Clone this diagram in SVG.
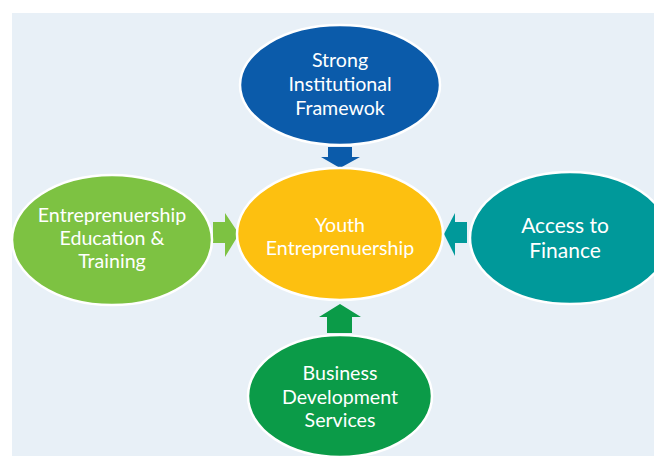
<svg xmlns="http://www.w3.org/2000/svg" width="654" height="456" viewBox="0 0 654 456">
  <style>
    .node { stroke: #ffffff; stroke-width: 2.5; }
    .label { font-family: Lato, "Open Sans", "Liberation Sans", sans-serif; fill: #ffffff; text-anchor: middle; font-size: 19.6px; }
    .big { font-size: 21px; }
  </style>
  <rect x="0" y="0" width="654" height="456" fill="#ffffff"/>
  <rect x="12" y="13" width="642" height="443" fill="#E8F0F7"/>

  <g id="connectors">
    <!-- down arrow from top node -->
    <polygon points="328,147 352,147 352,157 360,157 340,168 321,157 328,157" fill="#0B5BAA"/>
    <!-- right arrow from left node -->
    <polygon points="213,222 225,222 225,213 239,234 225,257 225,243 213,243" fill="#7DC242"/>
    <!-- left arrow from right node -->
    <polygon points="467,222 455,222 455,213 444,234 455,256 455,243 467,243" fill="#00999A"/>
    <!-- up arrow from bottom node -->
    <polygon points="327,333 352,333 352,317 361,317 340,304 319,317 327,317" fill="#0B9B48"/>
  </g>

  <g id="node-institutional">
    <ellipse class="node" cx="340" cy="85" rx="100" ry="60" fill="#0B5BAA"/>
    <text class="label" x="340" y="67">Strong</text>
    <text class="label" x="340" y="91">Institutional</text>
    <text class="label" x="340" y="115">Framewok</text>
  </g>

  <g id="node-youth">
    <ellipse class="node" cx="340" cy="234" rx="103" ry="66" fill="#FDC010"/>
    <text class="label" x="340" y="232">Youth</text>
    <text class="label" x="340" y="255">Entreprenuership</text>
  </g>

  <g id="node-education">
    <ellipse class="node" cx="112" cy="240" rx="100" ry="65" fill="#7DC242"/>
    <text class="label" x="112" y="222">Entreprenuership</text>
    <text class="label" x="112" y="245">Education &amp;</text>
    <text class="label" x="112" y="268">Training</text>
  </g>

  <g id="node-finance">
    <ellipse class="node" cx="570" cy="238" rx="100" ry="66" fill="#00999A"/>
    <text class="label big" x="565" y="233">Access to</text>
    <text class="label big" x="565" y="258">Finance</text>
  </g>

  <g id="node-bds">
    <ellipse class="node" cx="340" cy="396" rx="92" ry="61" fill="#0B9B48"/>
    <text class="label" x="340" y="380">Business</text>
    <text class="label" x="340" y="404">Development</text>
    <text class="label" x="340" y="427">Services</text>
  </g>
</svg>
